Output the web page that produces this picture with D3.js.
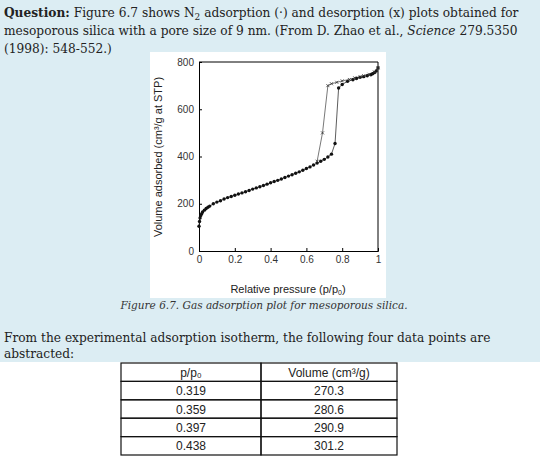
<!DOCTYPE html>
<html><head><meta charset="utf-8">
<script src="https://cdn.jsdelivr.net/npm/d3@7"></script>
<style>
body{margin:0;background:#fff;width:540px;height:456px;overflow:hidden;font-family:"DejaVu Serif",serif}
</style></head><body>
<svg id="c" width="540" height="456"></svg>
<script>
// adsorption (dots)
var adsP = [0,0.003,0.006,0.01,0.015,0.02,0.03,0.04,0.05,0.06,0.08,0.1,0.12,0.14,0.16,0.18,0.2,0.22,0.24,0.26,0.28,0.3,0.32,0.34,0.36,0.38,0.4,0.42,0.44,0.46,0.48,0.5,0.52,0.54,0.56,0.58,0.6,0.62,0.64,0.66,0.68,0.7,0.72,0.74,0.76,0.78,0.8,0.83,0.86,0.88,0.9,0.92,0.94,0.96,0.97,0.98,0.99,1.0];
var adsV = [105,125,140,150,158,165,173,180,185,190,200,207,213,220,226,231,236,241,246,251,256,262,267,272,277,283,289,294,299,305,311,317,323,329,335,342,349,356,364,372,380,388,398,410,455,690,705,718,725,730,735,738,742,746,750,755,762,775];
// desorption (x)
var desP = [1.0,0.98,0.95,0.92,0.9,0.87,0.84,0.8,0.77,0.74,0.72,0.69,0.66];
var desV = [775,758,748,742,738,733,726,720,714,708,700,500,380];
var yTicks = [0,200,400,600,800];
var xTicks = [0,0.2,0.4,0.6,0.8,1];
var tableHead = ["p/p\u2080","Volume (cm\u00b3/g)"];
var tableP = ["0.319","0.359","0.397","0.438"];
var tableV = ["270.3","280.6","290.9","301.2"];

var svg = d3.select("#c");
svg.append("rect").attr("width",540).attr("height",362).attr("fill","#dcedf3");
svg.append("rect").attr("x",150).attr("y",52).attr("width",236).attr("height",246).attr("fill","#fff");

var q = svg.append("text").attr("font-size",12.2).attr("fill","#222");
var l1 = q.append("tspan").attr("x",4).attr("y",17);
l1.append("tspan").attr("font-weight","bold").text("Question:");
l1.append("tspan").text(" Figure 6.7 shows N");
l1.append("tspan").attr("font-size",9).attr("dy",3).text("2");
l1.append("tspan").attr("dy",-3).text(" adsorption (\u00b7) and desorption (x) plots obtained for");
var l2 = q.append("tspan").attr("x",4).attr("y",35);
l2.append("tspan").text("mesoporous silica with a pore size of 9 nm. (From D. Zhao et al., ");
l2.append("tspan").attr("font-style","italic").text("Science");
l2.append("tspan").text(" 279.5350");
q.append("tspan").attr("x",4).attr("y",53).text("(1998): 548-552.)");

var x = d3.scaleLinear().domain([0,1]).range([199,378]);
var y = d3.scaleLinear().domain([0,800]).range([251,62]);
var g = svg.append("g").attr("font-family","Arial, Liberation Sans, sans-serif");
g.append("g").attr("transform","translate(0,251)")
  .call(d3.axisBottom(x).tickValues(xTicks).tickSize(-3).tickFormat(d3.format("")))
  .call(a=>a.selectAll("text").attr("dy",9).attr("font-size",10).attr("fill","#333"));
g.append("g").attr("transform","translate(199,0)")
  .call(d3.axisLeft(y).tickValues(yTicks).tickSize(-3))
  .call(a=>a.selectAll("text").attr("dx",-2).attr("font-size",10).attr("fill","#333"));
g.append("line").attr("x1",199).attr("x2",378).attr("y1",62).attr("y2",62).attr("stroke","#000");
g.append("line").attr("x1",378).attr("x2",378).attr("y1",62).attr("y2",251).attr("stroke","#000");
g.selectAll(".domain").attr("stroke","#000");

var line = d3.line().x(d=>x(d[0])).y(d=>y(d[1]));
var ads = adsP.map((p,i)=>[p,adsV[i]]);
var des = desP.map((p,i)=>[p,desV[i]]);
g.append("path").attr("d",line(ads)).attr("fill","none").attr("stroke","#333").attr("stroke-width",0.8);
g.append("path").attr("d",line(des)).attr("fill","none").attr("stroke","#555").attr("stroke-width",0.8);
g.selectAll(".dot").data(ads).enter().append("circle")
  .attr("cx",d=>x(d[0])).attr("cy",d=>y(d[1])).attr("r",1.7).attr("fill","#111");
g.selectAll(".xm").data(des).enter().append("path")
  .attr("d",d=>{var a=x(d[0]),b=y(d[1]);return `M${a-1.5},${b-1.5}L${a+1.5},${b+1.5}M${a-1.5},${b+1.5}L${a+1.5},${b-1.5}`;})
  .attr("stroke","#333").attr("stroke-width",0.8);
g.append("text").attr("transform","translate(162,157) rotate(-90)").attr("text-anchor","middle")
  .attr("font-size",11).attr("fill","#222").text("Volume adsorbed (cm\u00b3/g at STP)");
var xl = g.append("text").attr("x",288).attr("y",293).attr("text-anchor","middle").attr("font-size",11).attr("fill","#222");
xl.append("tspan").text("Relative pressure (p/p");
xl.append("tspan").attr("font-size",7).attr("dy",2).text("0");
xl.append("tspan").attr("dy",-2).text(")");

svg.append("text").attr("x",264).attr("y",309).attr("text-anchor","middle").attr("font-style","italic")
  .attr("font-size",10.5).attr("fill","#333").text("Figure 6.7. Gas adsorption plot for mesoporous silica.");
svg.append("text").attr("x",4).attr("y",342).attr("font-size",12.2).attr("fill","#222")
  .text("From the experimental adsorption isotherm, the following four data points are");
svg.append("text").attr("x",4).attr("y",358).attr("font-size",12.2).attr("fill","#222").text("abstracted:");

// table
var rows = [tableHead].concat(tableP.map((p,i)=>[p,tableV[i]]));
var ry = d3.scaleBand().domain(d3.range(rows.length)).range([363,455]);
var cx = [121,261,397];
var t = svg.append("g").attr("font-family","Arial, Liberation Sans, sans-serif").attr("font-size",12).attr("fill","#222");
rows.forEach((r,i)=>{
  [0,1].forEach(j=>{
    t.append("rect").attr("x",cx[j]).attr("y",ry(i)).attr("width",cx[j+1]-cx[j]).attr("height",ry.bandwidth())
      .attr("fill","none").attr("stroke","#111").attr("stroke-width",1.2);
    t.append("text").attr("x",(cx[j]+cx[j+1])/2).attr("y",ry(i)+ry.bandwidth()/2+4.5).attr("text-anchor","middle").text(r[j]);
  });
});
</script></body></html>
